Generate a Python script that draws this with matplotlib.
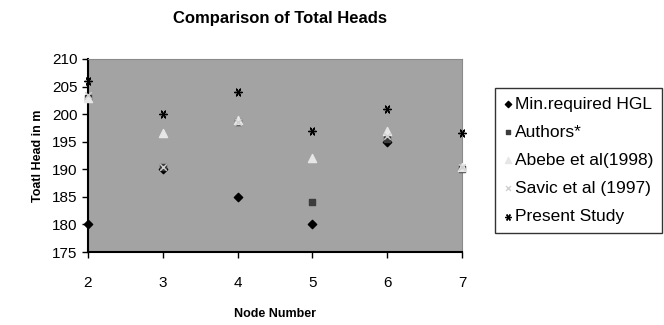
import numpy as np
import matplotlib
matplotlib.use('Agg')
import matplotlib.pyplot as plt

plt.rcParams['font.family'] = ['Liberation Sans', 'DejaVu Sans']

#%% Data
nodes = [2, 3, 4, 5, 6, 7]
min_hgl = [180, 190, 185, 180, 195, np.nan]
authors = [203, 190.5, 198.5, 184, 195.5, 190]
abebe = [203, 196.5, 199, 192, 197, 190.5]
savic = [203.5, 190.5, 198.5, np.nan, 196, 190.5]
present = [206, 200, 204, 197, 201, 196.5]

labels = ['Min.required HGL', 'Authors*', 'Abebe et al(1998)', 'Savic et al (1997)', 'Present Study']

#%% Plot
fig = plt.figure(figsize=(6.64, 3.25), dpi=100)
ax = fig.add_axes([88/664, 1 - 252/325, (462-88)/664, (252-59)/325])
ax.set_facecolor('#a3a3a3')

kw = dict(zorder=3, clip_on=False)
ax.scatter(nodes, min_hgl, marker='D', s=18, color='black', label=labels[0], **kw)
ax.scatter(nodes, authors, marker='s', s=18, color='#3c3c3c', label=labels[1], **kw)
ax.scatter(nodes, abebe, marker='^', s=34, color='#e6e6e6', label=labels[2], **kw)
ax.scatter(nodes, savic, marker='x', s=22, color='#d0d0d0', linewidths=1.0, label=labels[3], **kw)
ax.scatter(nodes, present, marker=(6, 2, 90), s=30, color='black', linewidths=1.0, label=labels[4], **kw)

ax.set_xlim(2, 7)
ax.set_ylim(175, 210)
ax.set_xticks(nodes)
ax.set_yticks(np.arange(175, 211, 5))
ax.tick_params(direction='out', length=4, labelsize=11, width=1)
ax.tick_params(axis='x', pad=13)

for s in ['top', 'right']:
    ax.spines[s].set_color('#8a8a8a')
for s in ['left', 'bottom']:
    ax.spines[s].set_linewidth(1.5)

ax.set_xlabel('Node Number', fontsize=9, fontweight='bold', labelpad=13)
ax.set_ylabel('Toatl Head in m', fontsize=9, fontweight='bold', labelpad=6)
fig.text(280/664, 1 - 18/325, 'Comparison of Total Heads', fontsize=12, fontweight='bold', ha='center', va='center')

leg = ax.legend(loc='upper left', bbox_to_anchor=(486/664, 1 - 79/325), bbox_transform=fig.transFigure,
                frameon=True, fancybox=False, edgecolor='black', fontsize=12.5, handletextpad=0.15,
                handlelength=0.5, labelspacing=0.75, borderpad=0.5, markerscale=0.75)
leg.get_frame().set_linewidth(1.0)

fig.savefig('out.png', dpi=100)
